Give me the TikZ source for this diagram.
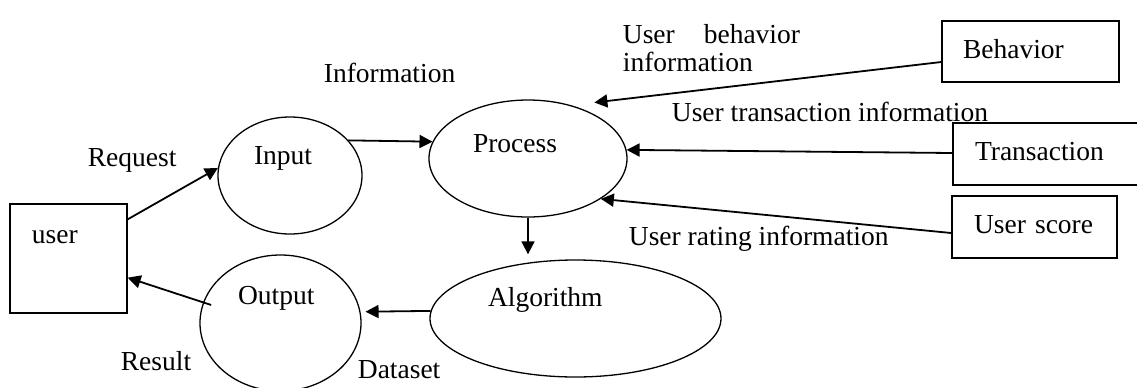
\documentclass[tikz,border=0pt]{standalone}
\usepackage{fontspec}
\setmainfont{Liberation Serif}
\usetikzlibrary{shapes.geometric,arrows.meta}

\tikzset{
  bubble/.style={ellipse, draw, line width=0.65pt, inner sep=0pt, align=left, text height=9.5pt},
  store/.style={rectangle, draw, line width=0.65pt, inner sep=0pt, align=left, text height=9.5pt},
  lbl/.style={anchor=base west, inner sep=0pt},
}

\begin{document}
\begin{tikzpicture}[x=0.5pt, y=-0.5pt, ->, >={Triangle[length=6.5pt,width=6.5pt]}, line width=0.9pt, font=\fontsize{13.75}{14}\selectfont]
   \useasboundingbox (0,0) rectangle (1137,387);
   \clip (0,0) rectangle (1137,387);

   \node [store, minimum width=58.5pt, minimum height=54.5pt, text width=36.5pt, text depth=25pt] (user) at (68.5,258.5) {user};
   \node [bubble, minimum width=72pt, minimum height=58.5pt, text width=36pt, text depth=21pt] (inp) at (290,175.5) {Input};
   \node [bubble, minimum width=99pt, minimum height=58.5pt, text width=55pt, text depth=16pt] (proc) at (528,158.5) {Process};
   \node [bubble, minimum width=145.5pt, minimum height=58.5pt, text width=87.5pt, text depth=22pt] (alg) at (575.5,318.5) {Algorithm};
   \node [bubble, minimum width=80.5pt, minimum height=68pt, text width=42.5pt, text depth=28.5pt] (out) at (280.5,323) {Output};
   \node [store, minimum width=88.5pt, minimum height=30.5pt, text width=67.5pt, text depth=3pt] (beh) at (1030.5,51.5) {Behavior};
   \node [store, minimum width=96pt, minimum height=31pt, text width=74pt, text depth=3.5pt] (trans) at (1049,154) {Transaction};
   \node [store, minimum width=82.5pt, minimum height=31pt, text width=60.5pt, text depth=3.5pt] (score) at (1034.5,227) {User score};

   \node [lbl] (req) at (87,166) {Request};
   \node [lbl] (info) at (323,82) {Information};
   \node [lbl, anchor=north west, text width=100pt, align=left] (ubeh) at (622,23.5) {User\hspace{14.5pt}behavior\\information};
   \node [lbl] (utrans) at (671,121) {User transaction information};
   \node [lbl] (urate) at (628,245) {User rating information};
   \node [lbl] (res) at (120,370) {Result};
   \node [lbl] (dset) at (357,378) {Dataset};

   \draw ([yshift=-8pt]user.north east) -- (inp.174);
   \draw (inp.31) -- (proc.170);
   \draw [shorten >=2.5pt] (proc.south) -- (proc.south |- alg.north);
   \draw [shorten >=2.5pt] (alg.177) -- (out.8);
   \draw ([xshift=4pt,yshift=-1.35pt]out.165) -- ([yshift=18pt]user.south east);
   \draw [shorten >=11.7pt] ([yshift=-5.25pt]beh.west) -- (proc.51);
   \draw ([yshift=0.5pt]trans.west) -- (proc.5);
   \draw ([yshift=-3pt]score.west) -- (proc.-29);
\end{tikzpicture}
\end{document}
